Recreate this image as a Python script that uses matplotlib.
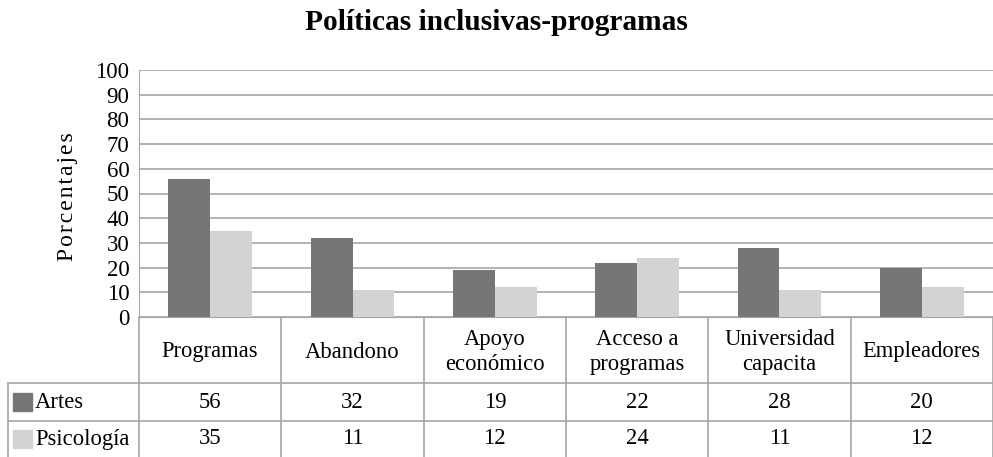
import numpy as np
import matplotlib.pyplot as plt

plt.rcParams['font.family'] = 'serif'
plt.rcParams['font.serif'] = ['Liberation Serif', 'DejaVu Serif']

# data
categorias = ["Programas", "Abandono", "Apoyo\neconómico", "Acceso a\nprogramas",
              "Universidad\ncapacita", "Empleadores"]
artes = [56, 32, 19, 22, 28, 20]
psicologia = [35, 11, 12, 24, 11, 12]
series = ["Artes", "Psicología"]
colores = ["#767676", "#d3d3d3"]
borde = "#a6a6a6"

W, H = 993, 457
fig = plt.figure(figsize=(W / 100, H / 100), dpi=100)

# plot area in pixels
left, right, top, bottom = 139, 993, 70, 317
ax = fig.add_axes([left / W, 1 - bottom / H, (right - left) / W, (bottom - top) / H])

n = len(categorias)
x = np.arange(n)
bw = 0.295
ax.bar(x - bw / 2, artes, bw, color=colores[0], zorder=3)
ax.bar(x + bw / 2, psicologia, bw, color=colores[1], zorder=3)
ax.set_xlim(-0.5, n - 0.5)
ax.set_ylim(0, 100)
ax.set_yticks(range(0, 101, 10))
ax.set_xticks([])
ax.tick_params(axis='y', length=0, labelsize=16.5, pad=7)
ax.yaxis.grid(True, color=borde, linewidth=1.2, zorder=0)
for s in ['top', 'right']:
    ax.spines[s].set_visible(False)
ax.spines['left'].set_color(borde)
ax.spines['bottom'].set_color(borde)
ax.set_ylabel("\u200a".join("Porcentajes"), fontsize=17)
ax.yaxis.set_label_coords(-0.071, 0.486)

fig.text(0.5, 1 - 22 / H, "Políticas inclusivas-programas", ha='center', va='center',
         fontsize=21.2, fontweight='bold')

# data table drawn in pixel coordinates
tab = fig.add_axes([0, 0, 1, 1])
tab.set_xlim(0, W)
tab.set_ylim(H, 0)
tab.axis('off')
cw = (right - left) / n
r1, r2, r3 = 383, 421, 457
lw = 1.2
tab.plot([left, left], [bottom, r3], color=borde, lw=lw)
for i in range(1, n + 1):
    xv = left + i * cw
    tab.plot([xv, xv], [bottom, r3], color=borde, lw=lw)
for yv in (r1, r2):
    tab.plot([8, W], [yv, yv], color=borde, lw=lw)
tab.plot([8, 8], [r1, r3], color=borde, lw=lw)

for i, c in enumerate(categorias):
    xc = left + (i + 0.5) * cw
    tab.text(xc, (bottom + r1) / 2 + 2, c, ha='center', va='center', fontsize=16.3,
             linespacing=1.2)
    tab.text(xc, (r1 + r2) / 2, str(artes[i]), ha='center', va='center', fontsize=16.3)
    tab.text(xc, (r2 + r3) / 2, str(psicologia[i]), ha='center', va='center', fontsize=16.3)

for j, (nombre, ycen) in enumerate(zip(series, [(r1 + r2) / 2, (r2 + r3) / 2])):
    tab.add_patch(plt.Rectangle((13, ycen - 9), 19, 18, color=colores[j]))
    tab.text(35, ycen, nombre, ha='left', va='center', fontsize=16.3)

fig.savefig("out.png", dpi=100)
